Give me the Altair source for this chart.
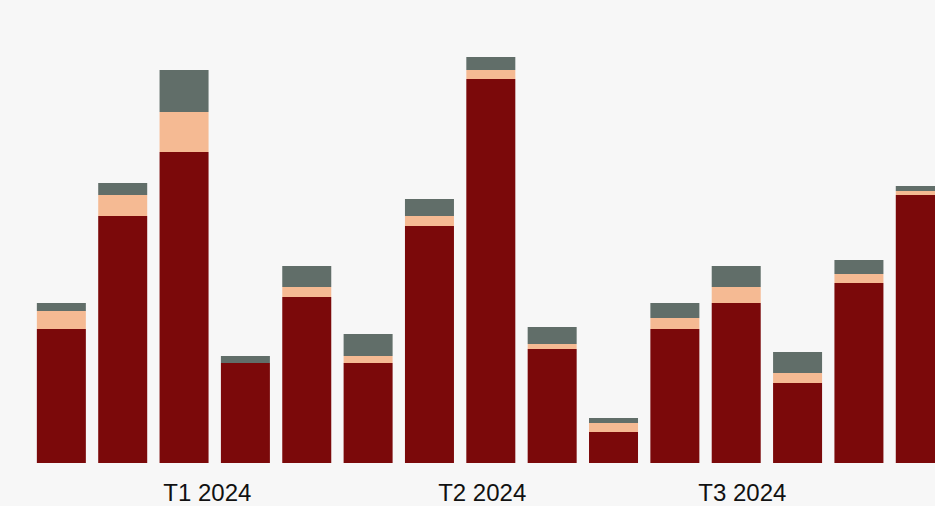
import altair as alt
import pandas as pd

# Data (one bar per month, three stacked components)
bar_index = list(range(1, 16))
series_names = ["Série 1", "Série 2", "Série 3"]
serie1 = [134, 247, 311, 100, 166, 100, 237, 384, 114, 31, 134, 160, 80, 180, 268]
serie2 = [18, 21, 40, 0, 10, 7, 10, 9, 5, 9, 11, 16, 10, 9, 4]
serie3 = [8, 12, 42, 7, 21, 22, 17, 13, 17, 5, 15, 21, 21, 14, 5]
colors = ["#7B090A", "#F5BA93", "#616E69"]

quarter_labels = ["T1 2024", "T2 2024", "T3 2024"]
quarter_pos = [3.38, 7.86, 12.10]

rows = []
for i, b in enumerate(bar_index):
    for k, (name, vals) in enumerate(zip(series_names, [serie1, serie2, serie3])):
        rows.append({"bar": b, "serie": name, "ord": k, "value": vals[i]})
df = pd.DataFrame(rows)

dq = pd.DataFrame({"pos": quarter_pos, "label": quarter_labels, "y": [-38] * 3})

xscale = alt.Scale(domain=[0, 15.24], nice=False, zero=False, padding=0)
yscale = alt.Scale(domain=[-43, 463], nice=False, zero=False, padding=0)

bars = alt.Chart(df).mark_bar(size=49, clip=True).encode(
    x=alt.X("bar:Q", scale=xscale, axis=None),
    y=alt.Y("value:Q", stack="zero", scale=yscale, axis=None),
    color=alt.Color("serie:N", scale=alt.Scale(domain=series_names, range=colors), legend=None),
    order=alt.Order("ord:Q", sort="ascending"),
)

labels = alt.Chart(dq).mark_text(
    font="Liberation Sans", fontSize=24, baseline="alphabetic", align="center", color="#111111"
).encode(
    x=alt.X("pos:Q", scale=xscale, axis=None),
    y=alt.Y("y:Q", scale=yscale, axis=None),
    text="label:N",
)

chart = alt.layer(bars, labels).properties(
    width=935, height=506,
    autosize=alt.AutoSizeParams(type="none"),
    padding=0,
    background="#F7F7F7",
).configure_view(strokeWidth=0)

chart.save("out.html", embed_options={"renderer": "svg", "actions": False})
